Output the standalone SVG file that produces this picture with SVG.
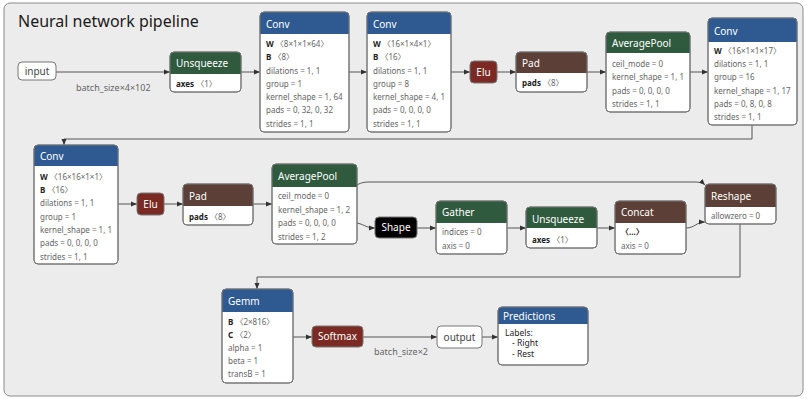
<svg xmlns="http://www.w3.org/2000/svg" width="807" height="399" viewBox="0 0 807 399">
<defs>
<marker id="ah" viewBox="0 0 6 6" refX="6" refY="3" markerWidth="6" markerHeight="6" markerUnits="userSpaceOnUse" orient="auto">
<path d="M0,0.5 L6,3 L0,5.5 Z" fill="#333"/>
</marker>
<style>
text{font-family:"Noto Sans","Open Sans","DejaVu Sans","Noto Sans CJK JP",sans-serif}
.title{font-size:16px;fill:#1a1a1a}
.box{fill:#fff;stroke:#777;stroke-width:1}
.ht{font-size:10px;fill:#fff}
.bt{font-size:8px;fill:#666}
.bb{font-weight:bold;fill:#222}
.lbl{font-size:9px;fill:#666}
.io{font-size:10px;fill:#444}
.pt{font-size:8.5px;fill:#222}
.blue{fill:#2e5a91}
.green{fill:#2f5a3e}
.brown{fill:#5c4037}
.red{fill:#7a2a22}
.edge{fill:none;stroke:#555;stroke-width:1;marker-end:url(#ah)}
</style>
</defs>
<rect x="4" y="3" width="799" height="393" rx="6" fill="#ececec" stroke="#8a8a8a" stroke-width="1"/>
<text class="title" x="18" y="27">Neural network pipeline</text>

<g id="edges">
<path class="edge" d="M56,72 H170"/>
<path class="edge" d="M241,72 H260"/>
<path class="edge" d="M349,72 H367"/>
<path class="edge" d="M451,72 H470"/>
<path class="edge" d="M497,72 H516"/>
<path class="edge" d="M587,72 H606"/>
<path class="edge" d="M690,72 H708"/>
<path class="edge" d="M752,125 V139 H64 V145"/>
<path class="edge" d="M118,204 H137"/>
<path class="edge" d="M164,204 H183"/>
<path class="edge" d="M253,204 H272"/>
<path class="edge" d="M357,223 C366,225 366,228 375,228"/>
<path class="edge" d="M357,185 C362,182 366,182 372,182 H694 C700,182 703,183 705,185"/>
<path class="edge" d="M417,228 H436"/>
<path class="edge" d="M507,228 H526"/>
<path class="edge" d="M597,228 H615"/>
<path class="edge" d="M686,228 C695,228 696,222 705,222"/>
<path class="edge" d="M740,224 V277 H257 V289"/>
<path class="edge" d="M293,337 H312"/>
<path class="edge" d="M363,337 H437"/>
<path class="edge" d="M482,337 H498"/>
<text class="lbl" x="76" y="91">batch_size×4×102</text>
<text class="lbl" x="374" y="355">batch_size×2</text>
</g>

<g id="input">
<rect class="box" x="18" y="62" width="38" height="18" rx="4"/>
<text class="io" x="37" y="75" text-anchor="middle">input</text>
</g>

<g id="unsqueeze1">
<rect class="box" x="170" y="52" width="71" height="40" rx="4"/>
<path class="green" d="M170,74 V56 Q170,52 174,52 H237 Q241,52 241,56 V74 Z"/>
<rect x="170" y="52" width="71" height="40" rx="4" fill="none" stroke="#777"/>
<text class="ht" x="176" y="67">Unsqueeze</text>
<text class="bt" x="176" y="87"><tspan class="bb">axes</tspan> 〈1〉</text>
</g>

<g id="conv1">
<rect class="box" x="260" y="12" width="89" height="120" rx="4"/>
<path class="blue" d="M260,34 V16 Q260,12 264,12 H345 Q349,12 349,16 V34 Z"/>
<rect x="260" y="12" width="89" height="120" rx="4" fill="none" stroke="#777"/>
<text class="ht" x="266" y="28">Conv</text>
<text class="bt" x="266" y="47"><tspan class="bb">W</tspan> 〈8×1×1×64〉</text>
<text class="bt" x="266" y="60"><tspan class="bb">B</tspan> 〈8〉</text>
<text class="bt" x="266" y="74">dilations = 1, 1</text>
<text class="bt" x="266" y="87">group = 1</text>
<text class="bt" x="266" y="100">kernel_shape = 1, 64</text>
<text class="bt" x="266" y="113">pads = 0, 32, 0, 32</text>
<text class="bt" x="266" y="127">strides = 1, 1</text>
</g>

<g id="conv2">
<rect class="box" x="367" y="12" width="84" height="120" rx="4"/>
<path class="blue" d="M367,34 V16 Q367,12 371,12 H447 Q451,12 451,16 V34 Z"/>
<rect x="367" y="12" width="84" height="120" rx="4" fill="none" stroke="#777"/>
<text class="ht" x="373" y="28">Conv</text>
<text class="bt" x="373" y="47"><tspan class="bb">W</tspan> 〈16×1×4×1〉</text>
<text class="bt" x="373" y="60"><tspan class="bb">B</tspan> 〈16〉</text>
<text class="bt" x="373" y="74">dilations = 1, 1</text>
<text class="bt" x="373" y="87">group = 8</text>
<text class="bt" x="373" y="100">kernel_shape = 4, 1</text>
<text class="bt" x="373" y="113">pads = 0, 0, 0, 0</text>
<text class="bt" x="373" y="127">strides = 1, 1</text>
</g>

<g id="elu1">
<rect class="red" x="470" y="61" width="27" height="22" rx="4" stroke="#777"/>
<text class="ht" x="483.5" y="76" text-anchor="middle">Elu</text>
</g>

<g id="pad1">
<rect class="box" x="516" y="52" width="71" height="40" rx="4"/>
<path class="brown" d="M516,73 V56 Q516,52 520,52 H583 Q587,52 587,56 V73 Z"/>
<rect x="516" y="52" width="71" height="40" rx="4" fill="none" stroke="#777"/>
<text class="ht" x="522" y="67">Pad</text>
<text class="bt" x="522" y="86"><tspan class="bb">pads</tspan> 〈8〉</text>
</g>

<g id="avgpool1">
<rect class="box" x="606" y="32" width="84" height="80" rx="4"/>
<path class="green" d="M606,53 V36 Q606,32 610,32 H686 Q690,32 690,36 V53 Z"/>
<rect x="606" y="32" width="84" height="80" rx="4" fill="none" stroke="#777"/>
<text class="ht" x="612" y="47">AveragePool</text>
<text class="bt" x="612" y="67">ceil_mode = 0</text>
<text class="bt" x="612" y="80">kernel_shape = 1, 1</text>
<text class="bt" x="612" y="94">pads = 0, 0, 0, 0</text>
<text class="bt" x="612" y="107">strides = 1, 1</text>
</g>

<g id="conv3">
<rect class="box" x="708" y="18" width="89" height="107" rx="4"/>
<path class="blue" d="M708,42 V22 Q708,18 712,18 H793 Q797,18 797,22 V42 Z"/>
<rect x="708" y="18" width="89" height="107" rx="4" fill="none" stroke="#777"/>
<text class="ht" x="714" y="35">Conv</text>
<text class="bt" x="714" y="54"><tspan class="bb">W</tspan> 〈16×1×1×17〉</text>
<text class="bt" x="714" y="67">dilations = 1, 1</text>
<text class="bt" x="714" y="80">group = 16</text>
<text class="bt" x="714" y="94">kernel_shape = 1, 17</text>
<text class="bt" x="714" y="107">pads = 0, 8, 0, 8</text>
<text class="bt" x="714" y="120">strides = 1, 1</text>
</g>

<g id="conv4">
<rect class="box" x="34" y="145" width="84" height="119" rx="4"/>
<path class="blue" d="M34,166 V149 Q34,145 38,145 H114 Q118,145 118,149 V166 Z"/>
<rect x="34" y="145" width="84" height="119" rx="4" fill="none" stroke="#777"/>
<text class="ht" x="40" y="160">Conv</text>
<text class="bt" x="40" y="180"><tspan class="bb">W</tspan> 〈16×16×1×1〉</text>
<text class="bt" x="40" y="193"><tspan class="bb">B</tspan> 〈16〉</text>
<text class="bt" x="40" y="206">dilations = 1, 1</text>
<text class="bt" x="40" y="220">group = 1</text>
<text class="bt" x="40" y="233">kernel_shape = 1, 1</text>
<text class="bt" x="40" y="246">pads = 0, 0, 0, 0</text>
<text class="bt" x="40" y="260">strides = 1, 1</text>
</g>

<g id="elu2">
<rect class="red" x="137" y="193" width="27" height="22" rx="4" stroke="#777"/>
<text class="ht" x="150.5" y="208" text-anchor="middle">Elu</text>
</g>

<g id="pad2">
<rect class="box" x="183" y="184" width="70" height="41" rx="4"/>
<path class="brown" d="M183,206 V188 Q183,184 187,184 H249 Q253,184 253,188 V206 Z"/>
<rect x="183" y="184" width="70" height="41" rx="4" fill="none" stroke="#777"/>
<text class="ht" x="189" y="200">Pad</text>
<text class="bt" x="189" y="220"><tspan class="bb">pads</tspan> 〈8〉</text>
</g>

<g id="avgpool2">
<rect class="box" x="272" y="164" width="85" height="80" rx="4"/>
<path class="green" d="M272,187 V168 Q272,164 276,164 H353 Q357,164 357,168 V187 Z"/>
<rect x="272" y="164" width="85" height="80" rx="4" fill="none" stroke="#777"/>
<text class="ht" x="278" y="180">AveragePool</text>
<text class="bt" x="278" y="199">ceil_mode = 0</text>
<text class="bt" x="278" y="213">kernel_shape = 1, 2</text>
<text class="bt" x="278" y="226">pads = 0, 0, 0, 0</text>
<text class="bt" x="278" y="240">strides = 1, 2</text>
</g>

<g id="shape">
<rect x="375" y="217" width="42" height="21" rx="4" fill="#000" stroke="#777"/>
<text class="ht" x="396" y="231" text-anchor="middle">Shape</text>
</g>

<g id="gather">
<rect class="box" x="436" y="201" width="71" height="53" rx="4"/>
<path class="green" d="M436,223 V205 Q436,201 440,201 H503 Q507,201 507,205 V223 Z"/>
<rect x="436" y="201" width="71" height="53" rx="4" fill="none" stroke="#777"/>
<text class="ht" x="442" y="216">Gather</text>
<text class="bt" x="442" y="235">indices = 0</text>
<text class="bt" x="442" y="249">axis = 0</text>
</g>

<g id="unsqueeze2">
<rect class="box" x="526" y="207" width="71" height="41" rx="4"/>
<path class="green" d="M526,228 V211 Q526,207 530,207 H593 Q597,207 597,211 V228 Z"/>
<rect x="526" y="207" width="71" height="41" rx="4" fill="none" stroke="#777"/>
<text class="ht" x="532" y="223">Unsqueeze</text>
<text class="bt" x="532" y="243"><tspan class="bb">axes</tspan> 〈1〉</text>
</g>

<g id="concat">
<rect class="box" x="615" y="201" width="71" height="53" rx="4"/>
<path class="brown" d="M615,223 V205 Q615,201 619,201 H682 Q686,201 686,205 V223 Z"/>
<rect x="615" y="201" width="71" height="53" rx="4" fill="none" stroke="#777"/>
<text class="ht" x="621" y="216">Concat</text>
<text class="bt bb" x="621" y="235">〈...〉</text>
<text class="bt" x="621" y="249">axis = 0</text>
</g>

<g id="reshape">
<rect class="box" x="705" y="184" width="71" height="40" rx="4"/>
<path class="brown" d="M705,207 V188 Q705,184 709,184 H772 Q776,184 776,188 V207 Z"/>
<rect x="705" y="184" width="71" height="40" rx="4" fill="none" stroke="#777"/>
<text class="ht" x="711" y="200">Reshape</text>
<text class="bt" x="711" y="219">allowzero = 0</text>
</g>

<g id="gemm">
<rect class="box" x="222" y="289" width="71" height="94" rx="4"/>
<path class="blue" d="M222,312 V293 Q222,289 226,289 H289 Q293,289 293,293 V312 Z"/>
<rect x="222" y="289" width="71" height="94" rx="4" fill="none" stroke="#777"/>
<text class="ht" x="228" y="305">Gemm</text>
<text class="bt" x="228" y="325"><tspan class="bb">B</tspan> 〈2×816〉</text>
<text class="bt" x="228" y="338"><tspan class="bb">C</tspan> 〈2〉</text>
<text class="bt" x="228" y="351">alpha = 1</text>
<text class="bt" x="228" y="364">beta = 1</text>
<text class="bt" x="228" y="377">transB = 1</text>
</g>

<g id="softmax">
<rect class="red" x="312" y="326" width="51" height="21" rx="4" stroke="#777"/>
<text class="ht" x="337.5" y="340" text-anchor="middle">Softmax</text>
</g>

<g id="output">
<rect class="box" x="437" y="326" width="45" height="22" rx="4"/>
<text class="io" x="459.5" y="341" text-anchor="middle">output</text>
</g>

<g id="predictions">
<rect class="box" x="498" y="307" width="90" height="58" rx="4"/>
<path class="blue" d="M498,324 V311 Q498,307 502,307 H584 Q588,307 588,311 V324 Z"/>
<rect x="498" y="307" width="90" height="58" rx="4" fill="none" stroke="#777"/>
<text class="ht" x="503" y="320">Predictions</text>
<text class="pt" x="505" y="336">Labels:</text>
<text class="pt" x="512" y="346">- Right</text>
<text class="pt" x="512" y="357">- Rest</text>
</g>
</svg>
